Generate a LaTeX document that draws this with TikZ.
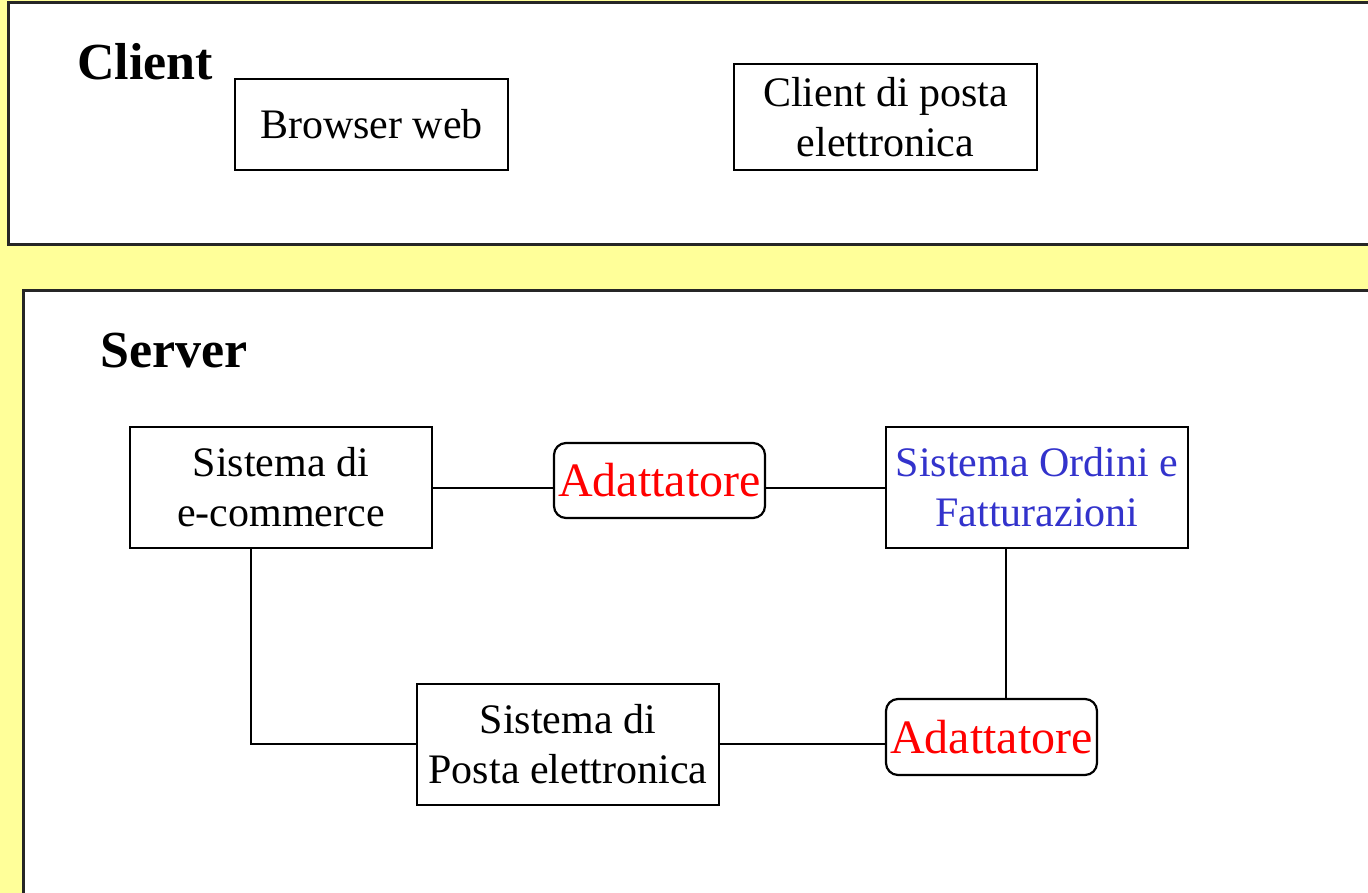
\documentclass[tikz,border=0pt]{standalone}
\usepackage{fontspec}
\setmainfont{Liberation Serif}
\definecolor{pagebg}{HTML}{FFFF99}
\definecolor{sysblue}{HTML}{3333CC}
\begin{document}
\begin{tikzpicture}[x=1pt,y=-1pt,
  panel/.style={draw=black!85,line width=3pt,fill=white},
  sysbox/.style={draw,line width=2.2pt,fill=white,inner sep=0pt,align=center,
    font=\fontsize{42}{50}\selectfont},
  adapter/.style={draw,line width=2.2pt,fill=white,rounded corners=12pt,inner sep=0pt,
    text=red,font=\fontsize{48}{56}\selectfont},
  title/.style={anchor=base west,inner sep=0pt,font=\fontsize{52}{60}\selectfont\bfseries},
  link/.style={line width=2pt}]
\useasboundingbox (0,0) rectangle (1368,893);
\fill[pagebg] (0,0) rectangle (1368,893);
\begin{scope}
\clip (0,0) rectangle (1368,893);
% client and server panels
\draw[panel] (8,3) rectangle (1390,245);
\draw[panel] (23,291) rectangle (1390,910);
\end{scope}
\node[title] (clienttitle) at (77,80) {Client};
\node[title] (servertitle) at (100,367) {Server};
% client side
\node[sysbox,minimum width=273pt,minimum height=91pt] (browser) at (371.5,124.5) {Browser web};
\node[sysbox,minimum width=303pt,minimum height=106pt] (mailclient) at (885.5,117) {Client di posta\\elettronica};
% server side
\node[sysbox,minimum width=302pt,minimum height=121pt] (ecom) at (281,487.5) {\raisebox{-2pt}{Sistema di}\\\raisebox{-2pt}{e-commerce}};
\node[adapter,minimum width=211pt,minimum height=75pt] (ad1) at (659.5,480.5) {Adattatore};
\node[sysbox,minimum width=302pt,minimum height=121pt,text=sysblue] (ordini) at (1037,487.5) {\raisebox{-2pt}{Sistema Ordini e}\\\raisebox{-2pt}{Fatturazioni}};
\node[sysbox,minimum width=302pt,minimum height=121pt] (posta) at (568,744.5) {Sistema di\\Posta elettronica};
\node[adapter,minimum width=211pt,minimum height=76pt] (ad2) at (991.5,737) {Adattatore};
% connections
\draw[link] (ecom.east |- 0,488) -- (ad1.west |- 0,488);
\draw[link] (ad1.east |- 0,488) -- (ordini.west |- 0,488);
\draw[link] ([xshift=-31pt]ordini.south) -- ([xshift=-31pt]ordini.south |- ad2.north);
\draw[link] ([xshift=-30pt]ecom.south) |- (posta.west |- 0,744);
\draw[link] (posta.east |- 0,744) -- (ad2.west |- 0,744);
\end{tikzpicture}
\end{document}
